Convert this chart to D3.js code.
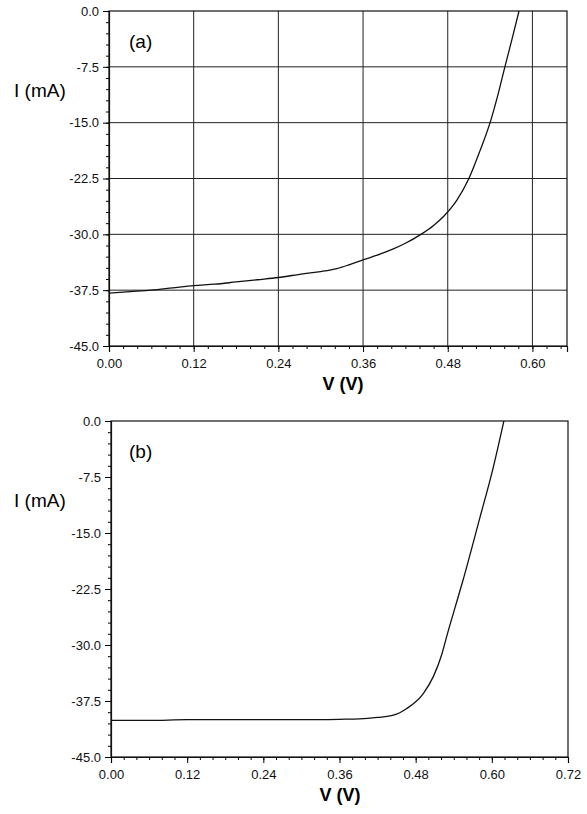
<!DOCTYPE html>
<html>
<head>
<meta charset="utf-8">
<script src="https://cdnjs.cloudflare.com/ajax/libs/d3/7.8.5/d3.min.js"></script>
<style>
  body { margin: 0; background: #fff; }
  svg { display: block; font-family: "Liberation Sans", Arial, sans-serif; }
</style>
</head>
<body>
<svg id="chart" width="587" height="814"></svg>
<script>
// panel (a)
var voltsA = [0, 0.03, 0.06, 0.09, 0.12, 0.15, 0.18, 0.21, 0.24, 0.275, 0.30, 0.323, 0.34, 0.361, 0.38, 0.402, 0.42, 0.442, 0.46, 0.474, 0.493, 0.510, 0.526, 0.540, 0.551, 0.561, 0.571, 0.581];
var currentA = [-37.9, -37.7, -37.5, -37.2, -36.9, -36.7, -36.4, -36.1, -35.8, -35.3, -35.0, -34.6, -34.1, -33.4, -32.8, -32.0, -31.2, -30.0, -28.8, -27.6, -25.4, -22.5, -18.7, -15.0, -11.3, -7.5, -3.8, 0];

// panel (b)
var voltsB = [0, 0.06, 0.12, 0.18, 0.24, 0.30, 0.36, 0.392, 0.42, 0.445, 0.466, 0.492, 0.508, 0.521, 0.531, 0.542, 0.554, 0.581, 0.602, 0.619];
var currentB = [-40.1, -40.1, -40.0, -40.0, -40.0, -40.0, -39.95, -39.9, -39.7, -39.4, -38.5, -36.5, -34.2, -31.3, -28.2, -25.0, -21.5, -13.0, -6.3, 0];

// tick labels
var yTicks = [0, -7.5, -15, -22.5, -30, -37.5, -45];
var xTicksA = [0, 0.12, 0.24, 0.36, 0.48, 0.60];
var xTicksB = [0, 0.12, 0.24, 0.36, 0.48, 0.60, 0.72];

var svg = d3.select("#chart");

// plain hyphen instead of the unicode minus d3 uses
function fmt(spec)
{
    var f = d3.format(spec);
    return function(d) { return f(d).replace("\u2212", "-"); };
}

function drawPanel(cfg)
{
    var g = svg.append("g");
    var x = d3.scaleLinear().domain([0, cfg.xMax]).range([cfg.left, cfg.right]);
    var y = d3.scaleLinear().domain([0, -45]).range([cfg.top, cfg.bottom]);

    // minor ticks
    var yMinor = d3.range(0, 31).map(function(i) { return -i * 1.5; });
    var xMinor = d3.range(0, Math.round(cfg.xMax / 0.02) + 1).map(function(i) { return i * 0.02; });

    g.append("g")
    .attr("transform", "translate(" + cfg.left + ",0)")
    .call(d3.axisLeft(y).tickValues(yMinor).tickSize(3).tickFormat(""))
    .call(function(a) { a.select(".domain").remove(); });

    g.append("g")
    .attr("transform", "translate(0," + cfg.bottom + ")")
    .call(d3.axisBottom(x).tickValues(xMinor.filter(function(d) { return d <= cfg.xMax + 1e-9; })).tickSize(3).tickFormat(""))
    .call(function(a) { a.select(".domain").remove(); });

    // grid
    if (cfg.grid)
    {
        g.selectAll(".hgrid")
        .data(yTicks.slice(1, -1))
        .enter().append("line")
        .attr("x1", cfg.left).attr("x2", cfg.right)
        .attr("y1", function(d) { return y(d); })
        .attr("y2", function(d) { return y(d); })
        .attr("stroke", "#222").attr("stroke-width", 1);

        g.selectAll(".vgrid")
        .data(cfg.xTicks.slice(1))
        .enter().append("line")
        .attr("x1", function(d) { return x(d); })
        .attr("x2", function(d) { return x(d); })
        .attr("y1", cfg.top).attr("y2", cfg.bottom)
        .attr("stroke", "#222").attr("stroke-width", 1);
    }

    // frame
    g.append("rect")
    .attr("x", cfg.left).attr("y", cfg.top)
    .attr("width", cfg.right - cfg.left).attr("height", cfg.bottom - cfg.top)
    .attr("fill", "none").attr("stroke", "#111").attr("stroke-width", 1.2);

    // major axes
    var yAxis = g.append("g")
    .attr("transform", "translate(" + cfg.left + ",0)")
    .call(d3.axisLeft(y).tickValues(yTicks).tickSize(6).tickPadding(4).tickFormat(fmt(".1f")));
    yAxis.selectAll("text").style("font-size", "13px").attr("fill", "#111");

    var xAxis = g.append("g")
    .attr("transform", "translate(0," + cfg.bottom + ")")
    .call(d3.axisBottom(x).tickValues(cfg.xTicks).tickSize(6).tickPadding(7).tickFormat(fmt(".2f")));
    xAxis.selectAll("text").style("font-size", "13px").attr("fill", "#111");

    svg.selectAll(".domain").attr("stroke", "#111").attr("stroke-width", 1.2);

    // curve
    var line = d3.line()
    .x(function(d) { return x(d[0]); })
    .y(function(d) { return y(d[1]); })
    .curve(d3.curveMonotoneX);

    g.append("path")
    .datum(d3.zip(cfg.volts, cfg.current))
    .attr("d", line)
    .attr("fill", "none")
    .attr("stroke", "#111")
    .attr("stroke-width", 1.3);

    // labels
    g.append("text")
    .attr("x", 14).attr("y", cfg.top + 86)
    .style("font-size", "19px")
    .text("I (mA)");

    g.append("text")
    .attr("x", 129).attr("y", cfg.top + 37)
    .style("font-size", "19px")
    .text(cfg.name);

    g.append("text")
    .attr("x", cfg.xLabelX).attr("y", cfg.bottom + 44)
    .attr("text-anchor", "middle")
    .style("font-size", "18px")
    .style("font-weight", "bold")
    .text("V (V)");
}

drawPanel({ name: "(a)", left: 109, right: 567, top: 11, bottom: 346, xMax: 0.649,
            xTicks: xTicksA, grid: true, volts: voltsA, current: currentA, xLabelX: 343 });
drawPanel({ name: "(b)", left: 111, right: 568, top: 421, bottom: 757, xMax: 0.72,
            xTicks: xTicksB, grid: false, volts: voltsB, current: currentB, xLabelX: 340 });
</script>
</body>
</html>
